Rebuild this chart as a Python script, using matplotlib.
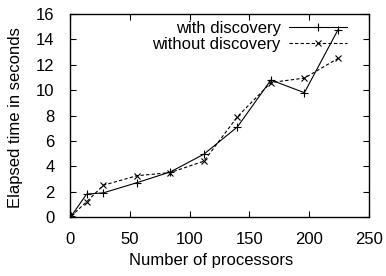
import matplotlib
matplotlib.use("Agg")
import matplotlib.pyplot as plt

plt.rcParams['font.family'] = ['Liberation Sans', 'DejaVu Sans']

procs = [1, 14, 28, 56, 84, 112, 140, 168, 196, 224]
with_disc = [0.05, 1.8, 1.9, 2.7, 3.55, 4.95, 7.1, 10.8, 9.8, 14.75]
without_disc = [0.05, 1.2, 2.5, 3.25, 3.5, 4.4, 7.9, 10.6, 10.95, 12.5]

fig = plt.figure(figsize=(3.86, 2.76), dpi=100)
ax = fig.add_axes([0.181, 0.214, 0.775, 0.735])
ax.plot(procs, with_disc, color='black', lw=0.8, marker='+', ms=6, mew=0.8, label='with discovery')
ax.plot(procs, without_disc, color='black', lw=0.8, ls=(0, (3, 2)), marker='x', ms=5, mew=0.8, label='without discovery')
ax.set_xlim(0, 250)
ax.set_ylim(0, 16)
ax.set_xticks([0, 50, 100, 150, 200, 250])
ax.set_yticks(range(0, 17, 2))
ax.tick_params(direction='in', top=True, right=True, labelsize=12, length=4, width=0.8, pad=11)
for s in ax.spines.values():
    s.set_linewidth(1.0)
ax.set_xlabel('Number of processors', fontsize=12)
ax.set_ylabel('Elapsed time in seconds', fontsize=12)
ax.xaxis.set_label_coords(0.472, -0.18)
ax.yaxis.set_label_coords(-0.155, 0.49)
ax.legend(loc='upper right', bbox_to_anchor=(0.95, 1.0), frameon=False, markerfirst=False, fontsize=12,
          handlelength=3.5, borderaxespad=0.0, labelspacing=0.05, handletextpad=0.5)
fig.savefig('out.png', dpi=100)
